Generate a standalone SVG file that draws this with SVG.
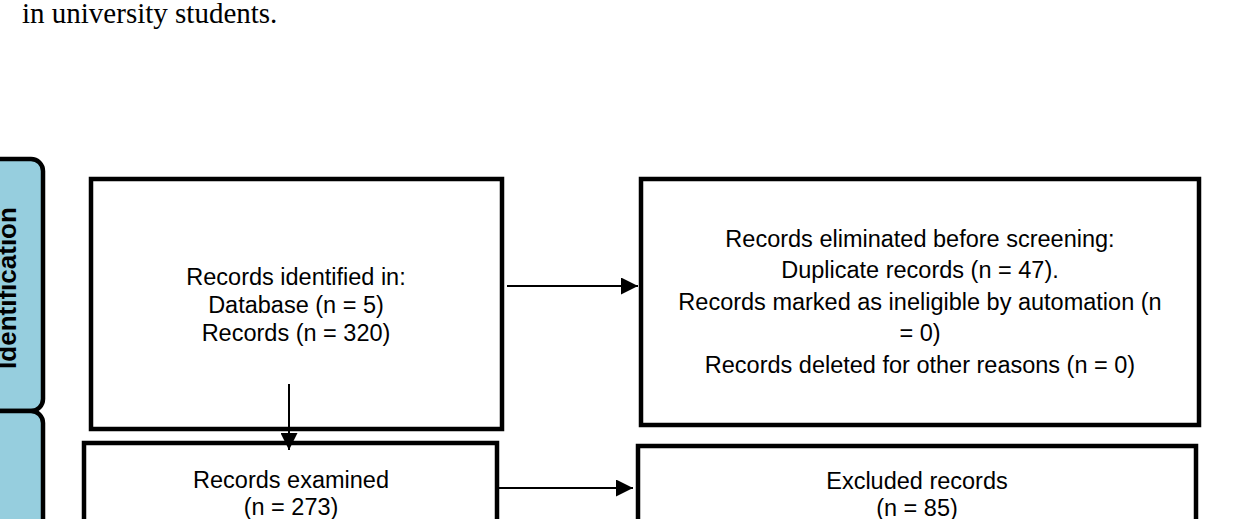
<svg xmlns="http://www.w3.org/2000/svg" width="1252" height="519" viewBox="0 0 1252 519">
<style>
.b{fill:#fff;stroke:#000;stroke-width:4.5}
.t{font-family:"Liberation Sans",Arial,sans-serif;font-size:23.5px;fill:#000;text-anchor:middle}
.tab{fill:#96CEDE;stroke:#000;stroke-width:4.5}
.c{stroke:#000;stroke-width:2;fill:none;marker-end:url(#a)}
</style>
<defs><marker id="a" viewBox="0 0 10 10" refX="10" refY="5" markerWidth="17" markerHeight="17" markerUnits="userSpaceOnUse" orient="auto"><path d="M0,0L10,5L0,10z" fill="#000"/></marker></defs>
<rect width="1252" height="519" fill="#fff"/>
<text x="22" y="23" font-family="'Liberation Serif',serif" font-size="29">in university students.</text>
<g id="tab1"><rect class="tab" x="-20" y="159" width="63" height="252" rx="12"/>
<text transform="translate(16,288) rotate(-90)" font-family="'Liberation Sans',Arial,sans-serif" font-weight="bold" font-size="26" text-anchor="middle">Identification</text></g>
<g id="tab2"><rect class="tab" x="-20" y="411" width="63" height="140" rx="12"/></g>
<g id="n1"><rect class="b" x="91" y="179" width="411" height="250"/>
<text class="t" x="296" y="285">Records identified in:</text><text class="t" x="296" y="313">Database (n = 5)</text><text class="t" x="296" y="341">Records (n = 320)</text></g>
<g id="n2"><rect class="b" x="641" y="179" width="558" height="246"/>
<text class="t" x="920" y="247">Records eliminated before screening:</text><text class="t" x="920" y="278">Duplicate records (n = 47).</text><text class="t" x="920" y="310">Records marked as ineligible by automation (n</text><text class="t" x="920" y="341">= 0)</text><text class="t" x="920" y="373">Records deleted for other reasons (n = 0)</text></g>
<g id="n3"><rect class="b" x="84" y="443" width="413" height="100"/>
<text class="t" x="291" y="488">Records examined</text><text class="t" x="291" y="515">(n = 273)</text></g>
<g id="n4"><rect class="b" x="638" y="446" width="558" height="100"/>
<text class="t" x="917" y="489">Excluded records</text><text class="t" x="917" y="516">(n = 85)</text></g>
<g id="connectors">
<path class="c" d="M507,286H638"/>
<path class="c" d="M289,384V450"/>
<path class="c" d="M499,488H633"/>
</g>
</svg>
